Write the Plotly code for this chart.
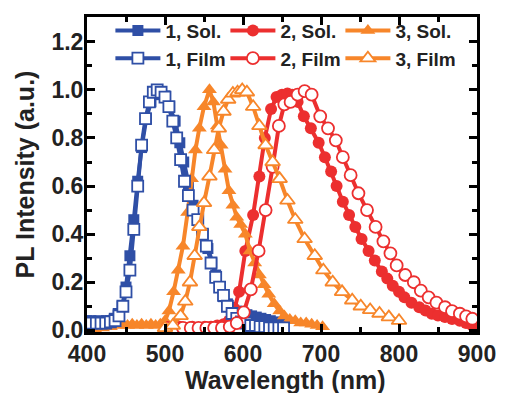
import plotly.graph_objects as go

# ---- data (wavelength in nm, normalized PL intensity) ----
x1_sol = [400, 405, 410, 415, 420, 425, 430, 435, 440, 445, 450, 455, 460, 465, 470, 476, 482, 488, 494, 500,
          506, 513, 519, 524, 530, 536, 543, 549, 555, 560, 565, 570, 575, 580, 586, 592, 599, 605, 611, 617,
          623, 629, 635, 641, 647, 652]
y1_sol = [0.04, 0.04, 0.035, 0.04, 0.035, 0.04, 0.04, 0.05, 0.07, 0.10, 0.18, 0.31, 0.46, 0.62, 0.76, 0.88, 0.95, 0.98, 0.99, 0.975,
          0.93, 0.87, 0.78, 0.70, 0.60, 0.52, 0.46, 0.40, 0.34, 0.28, 0.23, 0.18, 0.14, 0.11, 0.095, 0.08, 0.07, 0.065, 0.06, 0.055,
          0.05, 0.045, 0.04, 0.035, 0.03, 0.025]

x1_film = [400, 406, 412, 418, 424, 430, 436, 441, 446, 450, 455, 460, 465, 470, 475, 480, 485, 490, 495, 500,
           505, 510, 515, 520, 525, 530, 536, 542, 548, 553, 559, 565, 570, 575, 580, 586, 592, 598, 604, 610,
           616, 622, 628, 634, 640, 646, 652]
y1_film = [0.03, 0.03, 0.03, 0.03, 0.03, 0.035, 0.04, 0.06, 0.10, 0.16, 0.25, 0.42, 0.60, 0.77, 0.88, 0.95, 0.99, 1.0, 0.99, 0.97,
           0.93, 0.87, 0.80, 0.71, 0.62, 0.56, 0.50, 0.46, 0.40, 0.35, 0.28, 0.22, 0.18, 0.145, 0.10, 0.07, 0.05, 0.035, 0.03, 0.02,
           0.02, 0.015, 0.015, 0.01, 0.01, 0.01, 0.01]

x2_sol = [503, 511, 519, 527, 535, 543, 551, 559, 567, 575, 582, 589, 595, 603, 613, 621, 628, 636, 643, 650,
          657, 663, 670, 678, 687, 697, 705, 713, 720, 728, 736, 744, 752, 761, 769, 778, 785, 792, 800, 807,
          816, 826, 834, 842, 850, 859, 868, 878, 886, 894]
y2_sol = [0.015, 0.01, 0.015, 0.01, 0.015, 0.01, 0.015, 0.015, 0.02, 0.025, 0.04, 0.09, 0.16, 0.33, 0.48, 0.64, 0.80, 0.92, 0.97, 0.98,
          0.985, 0.98, 0.95, 0.89, 0.84, 0.78, 0.72, 0.66, 0.60, 0.535, 0.48, 0.43, 0.38, 0.33, 0.29, 0.245, 0.215, 0.185, 0.16, 0.137,
          0.115, 0.096, 0.082, 0.069, 0.062, 0.055, 0.047, 0.04, 0.03, 0.02]

x2_film = [503, 513, 523, 533, 543, 553, 563, 573, 583, 592, 601, 610, 620, 629, 638, 646, 653, 661, 670, 679,
           688, 699, 709, 719, 728, 738, 748, 759, 770, 780, 789, 797, 808, 819, 828, 838, 848, 859, 868, 878,
           886, 894]
y2_film = [0.01, 0.01, 0.01, 0.01, 0.01, 0.01, 0.01, 0.01, 0.015, 0.03, 0.075, 0.17, 0.33, 0.50, 0.68, 0.85, 0.94, 0.95, 0.98, 0.995,
           0.98, 0.89, 0.84, 0.79, 0.72, 0.645, 0.57, 0.50, 0.43, 0.37, 0.32, 0.27, 0.23, 0.20, 0.165, 0.137, 0.115, 0.096, 0.08, 0.069,
           0.058, 0.048]

x3_sol = [400, 410, 420, 430, 440, 446, 452, 458, 464, 470, 476, 482, 488, 494, 500, 505, 511, 517, 523, 529,
          534, 539, 544, 550, 557, 562, 567, 572, 577, 582, 587, 592, 597, 603, 609, 615, 621, 627, 633, 640,
          647, 653, 660, 667, 674, 681, 688, 695, 702]
y3_sol = [0.0, 0.005, 0.01, 0.015, 0.02, 0.025, 0.02, 0.025, 0.02, 0.025, 0.02, 0.025, 0.02, 0.025, 0.04, 0.08, 0.16, 0.25, 0.35, 0.49,
          0.63, 0.75, 0.84, 0.93, 1.0, 0.95, 0.85, 0.77, 0.67, 0.58, 0.52, 0.47, 0.44, 0.40, 0.33, 0.28, 0.23, 0.19, 0.15, 0.11,
          0.08, 0.06, 0.045, 0.04, 0.03, 0.03, 0.025, 0.02, 0.015]

x3_film = [500, 510, 520, 526, 532, 538, 544, 550, 557, 563, 569, 575, 581, 587, 593, 599, 605, 613, 621, 629,
           638, 647, 657, 667, 679, 692, 703, 715, 727, 740, 751, 763, 775, 787, 800]
y3_film = [0.01, 0.02, 0.06, 0.12, 0.20, 0.31, 0.43, 0.53, 0.64, 0.75, 0.84, 0.91, 0.96, 0.985, 0.99, 1.0, 0.99, 0.93, 0.85, 0.77,
           0.70, 0.63, 0.54, 0.46, 0.38, 0.31, 0.25, 0.20, 0.16, 0.125, 0.10, 0.085, 0.07, 0.055, 0.04]

x_ticks = [400, 500, 600, 700, 800, 900]
y_ticks = [0.0, 0.2, 0.4, 0.6, 0.8, 1.0, 1.2]
x_title = "Wavelength (nm)"
y_title = "PL Intensity (a.u.)"

BLUE = "#2f4fa6"
RED = "#ec2f2f"
ORANGE = "#f7862a"

series = [
    ("1, Sol.", x1_sol, y1_sol, BLUE, "square", False, 11),
    ("2, Sol.", x2_sol, y2_sol, RED, "circle", False, 12),
    ("3, Sol.", x3_sol, y3_sol, ORANGE, "triangle-up", False, 13),
    ("1, Film", x1_film, y1_film, BLUE, "square", True, 11),
    ("2, Film", x2_film, y2_film, RED, "circle", True, 12),
    ("3, Film", x3_film, y3_film, ORANGE, "triangle-up", True, 13),
]

fig = go.Figure()
for name, xs, ys, col, sym, hollow, size in series:
    if hollow:
        marker = dict(symbol=sym, size=size, color="white", line=dict(color=col, width=1.8))
    else:
        marker = dict(symbol=sym, size=size, color=col, line=dict(color=col, width=0))
    fig.add_trace(go.Scatter(x=xs, y=ys, name=name, mode="lines+markers",
                             line=dict(color=col, width=4), marker=marker))

font_family = "Liberation Sans, Arial, sans-serif"
axis_common = dict(
    showline=True, linecolor="black", linewidth=3, mirror="ticks",
    ticks="inside", ticklen=8, tickwidth=2.5, tickcolor="black",
    showgrid=False, zeroline=False,
    tickfont=dict(family=font_family, size=23, color="#222", weight="bold"),
)
title_font = dict(family=font_family, size=25, color="#222", weight="bold")

fig.update_layout(
    width=508, height=393,
    margin=dict(l=87, r=20, t=13, b=61),
    paper_bgcolor="white", plot_bgcolor="white",
    showlegend=True,
    legend=dict(
        orientation="h", x=0.06, y=1.017, xanchor="left", yanchor="top",
        entrywidth=55, entrywidthmode="pixels", itemwidth=45,
        font=dict(family=font_family, size=19, color="#222", weight="bold"),
        bgcolor="rgba(0,0,0,0)", tracegroupgap=0, traceorder="normal",
    ),
    xaxis=dict(
        range=[400, 900], tickvals=x_ticks, ticklabelstandoff=-1,
        minor=dict(ticks="inside", ticklen=5, tickwidth=2.5, tickcolor="black", dtick=50),
        **axis_common,
    ),
    yaxis=dict(
        range=[-0.007, 1.303], tickvals=y_ticks, tickformat=".1f", ticklabelstandoff=-4,
        minor=dict(ticks="inside", ticklen=5, tickwidth=2.5, tickcolor="black", dtick=0.1, tick0=0),
        **axis_common,
    ),
    annotations=[
        dict(text=x_title, xref="paper", yref="paper", x=0.5075, y=0, xanchor="center",
             yanchor="middle", yshift=-48, showarrow=False, font=title_font),
        dict(text=y_title, xref="paper", yref="paper", x=0, y=0.5, xanchor="center",
             yanchor="middle", xshift=-63, textangle=-90, showarrow=False, font=title_font),
    ],
)

fig.write_html("out.html", config={"displayModeBar": False},
               post_script="document.body.style.margin='0';")
